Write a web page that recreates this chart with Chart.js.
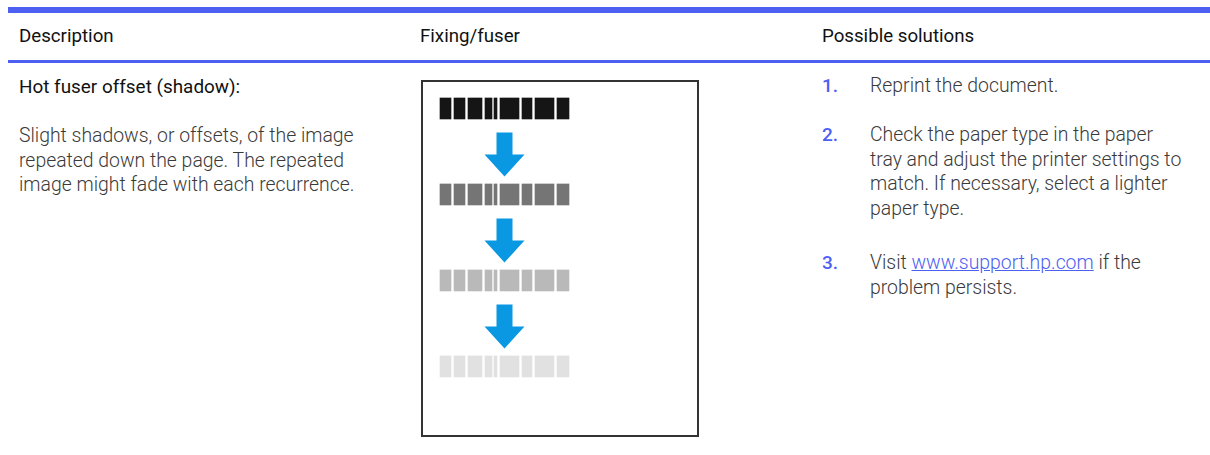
<!DOCTYPE html>
<html>
<head>
<meta charset="utf-8">
<script src="https://cdn.jsdelivr.net/npm/chart.js@4.4.1/dist/chart.umd.min.js"></script>
<style>
  html, body { margin: 0; padding: 0; background: #fff; }
  body { width: 1210px; height: 455px; position: relative; overflow: hidden; font-family: 'Roboto', 'Open Sans', sans-serif; }
  .rule { position: absolute; left: 8px; right: 0; background: #4d60f2; }
  .t { position: absolute; white-space: nowrap; line-height: 24.5px; }
  .hd { font-size: 18.7px; color: #111; font-weight: 400; top: 24px; }
  .body { font-size: 19.4px; color: #3a3a3a; font-weight: 300; }
  .num { position: absolute; left: 822px; color: #4d60f2; font-size: 19px; font-weight: 500; line-height: 24.5px; }
  a { color: #4d60f2; text-decoration: underline; }
  #fig { position: absolute; left: 421px; top: 80px; width: 278px; height: 357px; border: 2px solid #333; box-sizing: border-box; }
  #fig canvas { filter: blur(0.5px); }
</style>
</head>
<body>
<div class="rule" style="top:7px;height:6px"></div>
<div class="t hd" style="left:19px">Description</div>
<div class="t hd" style="left:420px">Fixing/fuser</div>
<div class="t hd" style="left:822px">Possible solutions</div>
<div class="rule" style="top:60px;height:3px"></div>

<div class="t" style="left:19px;top:75px;font-size:18.9px;color:#111">Hot fuser offset (shadow):</div>
<div class="t body" style="left:19px;top:124px">Slight shadows, or offsets, of the image<br>repeated down the page. The repeated<br>image might fade with each recurrence.</div>

<div class="num" style="top:74px">1.</div>
<div class="t body" style="left:870px;top:74px">Reprint the document.</div>
<div class="num" style="top:123px">2.</div>
<div class="t body" style="left:870px;top:123px">Check the paper type in the paper<br>tray and adjust the printer settings to<br>match. If necessary, select a lighter<br>paper type.</div>
<div class="num" style="top:251px">3.</div>
<div class="t body" style="left:870px;top:251px">Visit <a>www.support.hp.com</a> if the<br>problem persists.</div>

<div id="fig"><canvas id="chart-fuser" width="274" height="353"></canvas></div>

<script>
// barcode stripes, start/end along the bar
const stripes = [[0, 11], [14, 25], [28, 42], [45, 52], [54, 57], [60, 79], [82, 92], [95, 114], [117, 129]];
// repeated image rows, fading down the page
const rows = [0, 1, 2, 3];
const rowShades = ['#151515', '#757575', '#b9b9b9', '#e1e1e1'];
// arrows between rows (start / tip, in row steps)
const arrowFrom = [0.28, 1.28, 2.28];
const arrowTo = [0.79, 1.79, 2.79];

const ARROW = '#0b98e2';

const arrowsPlugin = {
  id: 'arrows',
  afterDatasetsDraw(chart) {
    const { ctx, scales: { x, y } } = chart;
    const xc = x.getPixelForValue((stripes[0][0] + stripes[stripes.length - 1][1]) / 2);
    ctx.save();
    ctx.fillStyle = ARROW;
    arrowFrom.forEach((f, i) => {
      const top = y.getPixelForValue(f);
      const tip = y.getPixelForValue(arrowTo[i]);
      const headTop = tip - 22;
      ctx.beginPath();
      ctx.moveTo(xc - 8, top);
      ctx.lineTo(xc + 8, top);
      ctx.lineTo(xc + 8, headTop);
      ctx.lineTo(xc + 20, headTop);
      ctx.lineTo(xc, tip);
      ctx.lineTo(xc - 20, headTop);
      ctx.lineTo(xc - 8, headTop);
      ctx.closePath();
      ctx.fill();
    });
    ctx.restore();
  }
};

new Chart(document.getElementById('chart-fuser'), {
  type: 'bar',
  data: {
    datasets: rows.map((r, i) => ({
      label: 'row ' + (r + 1),
      data: stripes.map(s => ({ x: s, y: r })),
      backgroundColor: rowShades[i],
      borderWidth: 0,
      barThickness: 21,
      grouped: false
    }))
  },
  options: {
    indexAxis: 'y',
    responsive: false,
    animation: false,
    events: [],
    layout: { padding: 0 },
    plugins: { legend: { display: false }, tooltip: { enabled: false } },
    scales: {
      x: { type: 'linear', min: -17, max: 257, display: false, offset: false },
      y: { type: 'linear', min: -0.308, max: 3.797, reverse: true, display: false, offset: false }
    }
  },
  plugins: [arrowsPlugin]
});
</script>
</body>
</html>
